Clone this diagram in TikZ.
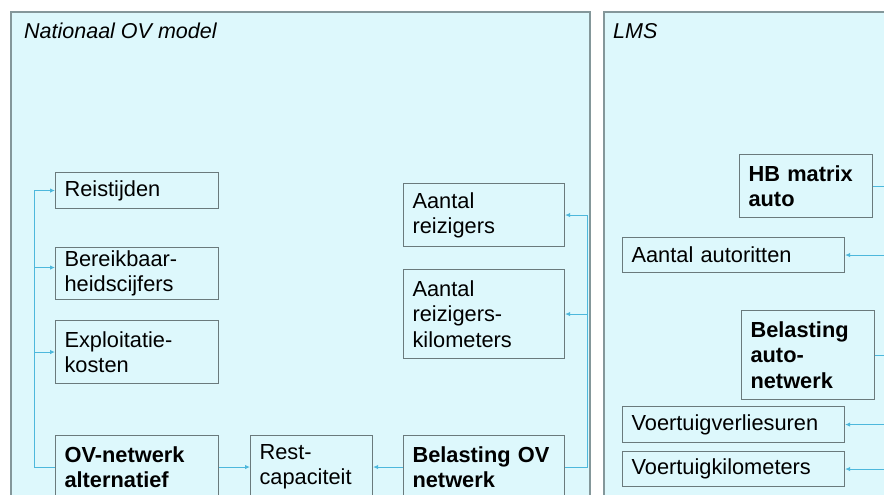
\documentclass[tikz,border=0pt]{standalone}
\usepackage{fontspec}
\setmainfont{Liberation Sans}
\usetikzlibrary{arrows.meta,calc}
\definecolor{panelfill}{HTML}{DDF8FC}
\definecolor{panelline}{HTML}{84979A}
\definecolor{boxline}{HTML}{6A7A7C}
\definecolor{connblue}{HTML}{4DB8DC}
\tikzset{
  panel/.style={draw=panelline, fill=panelfill, line width=1.1pt},
  box/.style={draw=boxline, fill=panelfill, line width=1.1pt, anchor=north west,
    align=left, inner xsep=9pt, inner ysep=0pt,
    font=\fontsize{21.8}{25.2}\selectfont, text=black},
  boldbox/.style={box, font=\fontsize{21.8}{25.2}\selectfont\bfseries},
  conn/.style={draw=connblue, line width=1pt},
  arr/.style={conn, -{Latex[length=5pt,width=4.5pt]}},
  paneltitle/.style={anchor=west, inner sep=0pt, font=\fontsize{21.5}{24}\selectfont\itshape}
}
\newcommand{\bx}[7]{% name, style, x1, y1, w, h, text
  \node[#2, text width=#5pt-18pt, minimum height=#6pt] (#1) at (#3,#4) {#7};}
\begin{document}
\begin{tikzpicture}[x=1pt,y=-1pt]
\useasboundingbox (0,0) rectangle (884,495);
\clip (0,0) rectangle (884,495);
\fill[white] (0,0) rectangle (884,495);
% panels
\draw[panel] (11,12) rectangle (590,520);
\draw[panel] (604,12) rectangle (910,520);
\node[paneltitle] (t1) at (24,31) {Nationaal OV model};
\node[paneltitle] (t2) at (613,31) {LMS};
% left panel boxes
\bx{reis}{box}{55}{172}{163}{36}{Reistijden}
\bx{bereik}{box}{55}{247}{163}{52}{Bereikbaar-\\heidscijfers}
\bx{exploit}{box}{55}{320}{163}{63}{Exploitatie-\\kosten}
\bx{ovnet}{boldbox}{55}{435}{163}{63}{OV-netwerk\\alternatief}
\bx{rest}{box}{250}{435}{122}{63}{Rest-\\capaciteit}
\bx{belov}{boldbox}{403}{435}{161}{63}{Belasting OV\\netwerk}
\bx{aantrz}{box}{403}{183}{161}{63}{Aantal\\reizigers}
\bx{aantrzkm}{box}{403}{269}{161}{89}{Aantal\\reizigers-\\kilometers}
% right panel boxes
\bx{hb}{boldbox}{739}{154}{133}{63}{HB matrix\\auto}
\bx{autorit}{box}{622}{237}{222}{35}{Aantal autoritten}
\bx{belauto}{boldbox}{741}{310}{133}{89}{Belasting\\auto-\\netwerk}
\bx{vvu}{box}{622}{406}{222}{36}{Voertuigverliesuren}
\bx{vkm}{box}{622}{451}{222}{35}{Voertuigkilometers}
% helper coordinates
\coordinate (lx) at (34,0);
\coordinate (rx) at (587,0);
\coordinate (ex) at (900,0);
% left feedback connectors
\draw[arr] (ovnet.west) -- (ovnet.west -| lx) |- (reis.west);
\draw[arr] ([yshift=6pt]bereik.west -| lx) -- ([yshift=6pt]bereik.west);
\draw[arr] (exploit.west -| lx) -- (exploit.west);
% rest capacity
\draw[arr] (ovnet.east) -- (rest.west);
\draw[arr] (belov.west) -- (rest.east);
% belasting OV outputs
\draw[arr] (belov.east) -- (belov.east -| rx) |- (aantrz.east);
\draw[arr] (aantrzkm.east -| rx) -- (aantrzkm.east);
% LMS connectors
\draw[conn] (hb.east) -- (hb.east -| ex);
\draw[conn] (belauto.east) -- (belauto.east -| ex);
\draw[arr] (autorit.east -| ex) -- (autorit.east);
\draw[arr] (vvu.east -| ex) -- (vvu.east);
\draw[arr] (vkm.east -| ex) -- (vkm.east);
\end{tikzpicture}
\end{document}
